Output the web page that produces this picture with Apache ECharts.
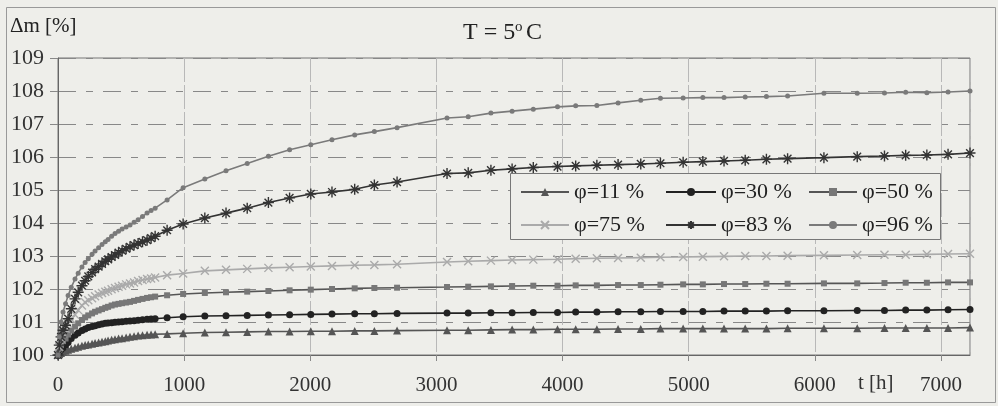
<!DOCTYPE html>
<html>
<head>
<meta charset="utf-8">
<script src="https://cdn.jsdelivr.net/npm/echarts@6/dist/echarts.min.js"></script>
<style>
  html, body { margin: 0; padding: 0; background: #eeeeea; }
  #container { width: 998px; height: 406px; }
</style>
</head>
<body>
<div id="container"></div>
<script>
// time of measurement [h]
var hours = [0, 10, 24, 40, 60, 80, 105, 135, 160, 190, 215, 240, 270, 294, 322, 349, 375, 397, 425, 452,
  480, 508, 540, 571, 603, 635, 670, 706, 738, 770, 865, 992, 1164, 1332, 1500, 1668, 1836, 2004, 2172, 2352,
  2508, 2688, 3084, 3252, 3432, 3600, 3768, 3960, 4104, 4272, 4440, 4620, 4776, 4956, 5112, 5280, 5448, 5616,
  5784, 6072, 6336, 6552, 6720, 6888, 7056, 7230];

var rh11 = [100, 100.03, 100.06, 100.1, 100.13, 100.16, 100.19, 100.22, 100.25, 100.28, 100.3, 100.32, 100.34, 100.36, 100.38, 100.4, 100.42, 100.44, 100.46, 100.48,
  100.5, 100.51, 100.53, 100.55, 100.57, 100.59, 100.6, 100.61, 100.62, 100.63, 100.64, 100.66, 100.68, 100.69, 100.7, 100.71, 100.71, 100.72, 100.72, 100.73,
  100.73, 100.74, 100.75, 100.75, 100.76, 100.77, 100.77, 100.78, 100.78, 100.78, 100.79, 100.79, 100.8, 100.8, 100.8, 100.8, 100.8, 100.8,
  100.81, 100.81, 100.81, 100.82, 100.82, 100.82, 100.82, 100.83];
var rh30 = [100, 100.08, 100.16, 100.22, 100.3, 100.38, 100.5, 100.6, 100.67, 100.74, 100.79, 100.83, 100.86, 100.89, 100.92, 100.94, 100.96, 100.97, 100.98, 100.99,
  101.0, 101.01, 101.02, 101.03, 101.04, 101.05, 101.07, 101.08, 101.09, 101.1, 101.13, 101.16, 101.18, 101.19, 101.2, 101.21, 101.22, 101.23, 101.24, 101.25,
  101.25, 101.26, 101.27, 101.27, 101.28, 101.28, 101.29, 101.29, 101.3, 101.3, 101.31, 101.31, 101.32, 101.32, 101.32, 101.33, 101.33, 101.33,
  101.34, 101.34, 101.35, 101.35, 101.36, 101.36, 101.37, 101.38];
var rh50 = [100, 100.15, 100.3, 100.42, 100.5, 100.62, 100.74, 100.86, 100.96, 101.06, 101.14, 101.2, 101.26, 101.31, 101.35, 101.39, 101.43, 101.46, 101.5, 101.53,
  101.55, 101.57, 101.59, 101.61, 101.64, 101.67, 101.7, 101.73, 101.75, 101.77, 101.81, 101.85, 101.88, 101.9, 101.92, 101.94, 101.96, 101.98, 102.0, 102.02,
  102.03, 102.04, 102.06, 102.07, 102.08, 102.09, 102.1, 102.1, 102.11, 102.11, 102.12, 102.12, 102.13, 102.14, 102.14, 102.15, 102.15, 102.16,
  102.16, 102.17, 102.17, 102.18, 102.19, 102.19, 102.2, 102.2];
var rh75 = [100, 100.25, 100.5, 100.65, 100.8, 100.95, 101.08, 101.22, 101.36, 101.5, 101.6, 101.66, 101.72, 101.78, 101.83, 101.88, 101.92, 101.95, 101.99, 102.03,
  102.07, 102.1, 102.14, 102.17, 102.2, 102.24, 102.27, 102.3, 102.32, 102.35, 102.42, 102.47, 102.55, 102.58, 102.61, 102.64, 102.66, 102.68, 102.7, 102.72,
  102.73, 102.75, 102.82, 102.84, 102.86, 102.88, 102.89, 102.9, 102.92, 102.93, 102.94, 102.95, 102.96, 102.97, 102.98, 102.99, 103.0, 103.0,
  103.01, 103.02, 103.03, 103.04, 103.04, 103.05, 103.06, 103.07];
var rh83 = [100, 100.3, 100.55, 100.75, 100.9, 101.1, 101.4, 101.7, 101.9, 102.1, 102.25, 102.38, 102.5, 102.6, 102.68, 102.76, 102.84, 102.9, 102.97, 103.03,
  103.1, 103.16, 103.22, 103.28, 103.33, 103.38, 103.43, 103.48, 103.54, 103.6, 103.78, 103.97, 104.15, 104.3, 104.45, 104.62, 104.76, 104.88, 104.94, 105.02,
  105.15, 105.24, 105.5, 105.52, 105.6, 105.64, 105.68, 105.71, 105.73, 105.75, 105.77, 105.79, 105.81, 105.84, 105.86, 105.88, 105.9, 105.93,
  105.95, 105.98, 106.01, 106.03, 106.05, 106.06, 106.08, 106.12];
var rh96 = [100, 100.55, 101.0, 101.3, 101.55, 101.8, 102.05, 102.3, 102.48, 102.67, 102.8, 102.92, 103.05, 103.15, 103.25, 103.35, 103.43, 103.5, 103.6, 103.68,
  103.75, 103.82, 103.88, 103.94, 104.02, 104.1, 104.2, 104.3, 104.38, 104.45, 104.7, 105.07, 105.33, 105.58, 105.8, 106.02, 106.22, 106.37, 106.52, 106.67,
  106.77, 106.89, 107.18, 107.22, 107.33, 107.39, 107.45, 107.52, 107.55, 107.56, 107.64, 107.72, 107.78, 107.79, 107.8, 107.8, 107.82, 107.83,
  107.85, 107.93, 107.93, 107.94, 107.96, 107.95, 107.97, 108.0];

var seriesNames = ["φ=11 %", "φ=30 %", "φ=50 %", "φ=75 %", "φ=83 %", "φ=96 %"];
var yTicks = [100, 101, 102, 103, 104, 105, 106, 107, 108, 109];

var SERIF = "'Liberation Serif', 'DejaVu Serif', serif";
var BG = "#eeeeea";

function pairs(vals) {
  var out = [];
  for (var i = 0; i < hours.length; i++) out.push([hours[i], vals[i]]);
  return out;
}

function mkSeries(name, vals, color, lineColor, symbol, size, border) {
  return {
    name: name,
    type: "line",
    data: pairs(vals),
    symbol: symbol,
    symbolSize: size,
    z: 2,
    lineStyle: { color: lineColor, width: 1.6 },
    itemStyle: { color: color, borderColor: color, borderWidth: border || 0 }
  };
}

var ASTER = "path://M0,5L10,5M5,0L5,10M1.5,1.5L8.5,8.5M8.5,1.5L1.5,8.5";
var CROSS = "path://M0,0L10,10M10,0L0,10";

var dom = document.getElementById("container");
var myChart = echarts.init(dom, null, { renderer: "canvas" });

function legendCol(names, left, w) {
  return {
    data: names,
    orient: "vertical",
    left: left,
    top: 181,
    z: 6,
    itemWidth: w,
    itemHeight: 10,
    itemGap: 11,
    padding: 0,
    textStyle: { fontFamily: SERIF, fontSize: 22, lineHeight: 22, color: "#222" }
  };
}

var option = {
  backgroundColor: BG,
  animation: false,
  grid: { left: 58, right: 28, top: 58, bottom: 51, show: true, borderColor: "#777", borderWidth: 1 },
  legend: [
    legendCol([seriesNames[0], seriesNames[3]], 520, 48),
    legendCol([seriesNames[1], seriesNames[4]], 665, 50),
    legendCol([seriesNames[2], seriesNames[5]], 808, 48)
  ],
  xAxis: {
    type: "value",
    min: 0,
    max: 7230,
    interval: 1000,
    axisLine: { lineStyle: { color: "#666" } },
    axisTick: { show: true, length: 6, lineStyle: { color: "#888" } },
    axisLabel: {
      margin: 20, fontFamily: SERIF, fontSize: 21, color: "#333", showMaxLabel: false,
      formatter: function (v) { return v % 1000 === 0 ? String(v) : ""; }
    },
    splitLine: { show: true, lineStyle: { color: "#b8b8b8", width: 1, type: [24, 3] } }
  },
  yAxis: {
    type: "value",
    min: yTicks[0],
    max: yTicks[yTicks.length - 1],
    interval: 1,
    axisLine: { show: true, lineStyle: { color: "#666" } },
    axisTick: { show: true, length: 8, lineStyle: { color: "#888" } },
    axisLabel: { margin: 14, fontFamily: SERIF, fontSize: 22, color: "#333" },
    splitLine: { show: true, lineStyle: { color: "#888", width: 1.2, type: [18, 10, 7, 10] } }
  },
  graphic: [
    { type: "rect", left: 4, top: 5, z: -1, shape: { width: 989, height: 395 }, style: { fill: "none", stroke: "#999", lineWidth: 1 } },
    { type: "rect", left: 510, top: 173, z: 4, shape: { width: 430, height: 66 }, style: { fill: BG, stroke: "#777", lineWidth: 1 } },
    { type: "text", left: 10, top: 16, style: { text: "Δm [%]", font: "21px " + SERIF, fill: "#222" } },
    { type: "text", left: 858, top: 373, style: { text: "t [h]", font: "21px " + SERIF, fill: "#333" } },
    { type: "text", left: 463, top: 21, style: { text: "T = 5", font: "24px " + SERIF, fill: "#222" } },
    { type: "text", left: 515, top: 20, style: { text: "o", font: "15px " + SERIF, fill: "#222" } },
    { type: "text", left: 526, top: 21, style: { text: "C", font: "24px " + SERIF, fill: "#222" } }
  ],
  series: [
    mkSeries(seriesNames[0], rh11, "#555", "#555", "triangle", 8),
    mkSeries(seriesNames[1], rh30, "#222", "#222", "circle", 7),
    mkSeries(seriesNames[2], rh50, "#777", "#555", "rect", 6),
    mkSeries(seriesNames[3], rh75, "#aaa", "#aaa", CROSS, 8, 1.4),
    mkSeries(seriesNames[4], rh83, "#333", "#333", ASTER, 11, 1.4),
    mkSeries(seriesNames[5], rh96, "#7a7a7a", "#7a7a7a", "circle", 5)
  ]
};

myChart.setOption(option);
</script>
</body>
</html>
